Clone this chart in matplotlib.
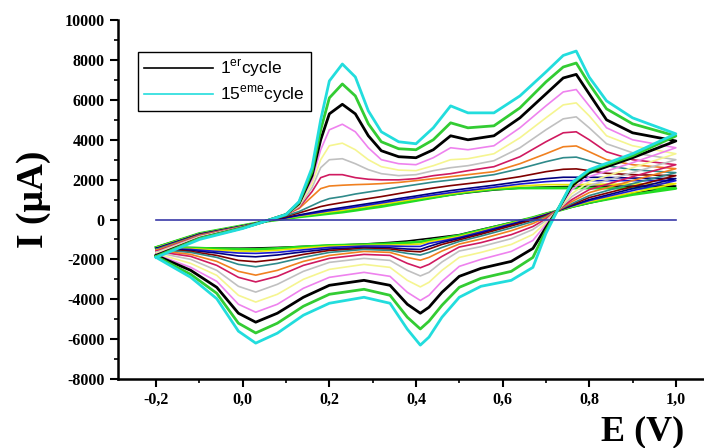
import numpy as np
import matplotlib
matplotlib.use("Agg")
import matplotlib.pyplot as plt
from matplotlib.lines import Line2D
from matplotlib.ticker import MultipleLocator, FuncFormatter

# potentiels (V) des points
E_fwd = [-0.2, -0.1, 0.0, 0.05, 0.1, 0.13, 0.16, 0.18, 0.2, 0.23, 0.26, 0.29, 0.32, 0.36,
         0.4, 0.44, 0.48, 0.52, 0.58, 0.64, 0.7, 0.74, 0.77, 0.8, 0.84, 0.9, 1.0]
E_rev = [1.0, 0.9, 0.8, 0.76, 0.73, 0.7, 0.67, 0.62, 0.55, 0.5, 0.46, 0.43, 0.41, 0.38,
         0.34, 0.28, 0.2, 0.14, 0.08, 0.03, -0.01, -0.06, -0.12, -0.2]

# courants (uA), balayage aller, du 1er au 15eme cycle
I_fwd_01 = [-1380, -700, -300, -100, 50, 150, 230, 280, 330, 400, 490, 590, 680, 820, 960, 1100, 1230, 1340, 1480, 1580, 1630, 1650, 1660, 1665, 1670, 1675, 1680]
I_fwd_02 = [-1400, -700, -300, -100, 40, 130, 200, 250, 300, 370, 460, 560, 650, 800, 950, 1100, 1250, 1380, 1520, 1580, 1580, 1580, 1580, 1580, 1575, 1570, 1560]
I_fwd_03 = [-1420, -720, -310, -100, 60, 170, 260, 320, 380, 460, 560, 660, 760, 900, 1030, 1170, 1300, 1410, 1560, 1680, 1750, 1750, 1750, 1760, 1770, 1780, 1800]
I_fwd_04 = [-1450, -730, -320, -100, 80, 200, 300, 370, 440, 530, 630, 730, 830, 970, 1100, 1230, 1350, 1460, 1620, 1780, 1900, 1950, 1950, 1950, 1950, 1950, 1950]
I_fwd_05 = [-1450, -740, -330, -100, 100, 230, 350, 430, 500, 600, 700, 800, 900, 1050, 1180, 1320, 1450, 1560, 1720, 1900, 2050, 2120, 2120, 2120, 2110, 2080, 2050]
I_fwd_06 = [-1500, -760, -340, -100, 150, 330, 520, 650, 740, 850, 950, 1050, 1150, 1300, 1450, 1580, 1700, 1800, 1950, 2150, 2400, 2520, 2540, 2450, 2320, 2250, 2200]
I_fwd_07 = [-1500, -780, -350, -100, 200, 400, 700, 900, 1050, 1150, 1280, 1380, 1480, 1620, 1750, 1880, 1980, 2080, 2250, 2550, 2900, 3100, 3130, 2950, 2700, 2500, 2350]
I_fwd_08 = [-1550, -800, -360, -100, 250, 550, 1150, 1550, 1680, 1720, 1750, 1770, 1800, 1860, 1950, 2050, 2150, 2250, 2400, 2800, 3300, 3650, 3690, 3400, 3000, 2750, 2550]
I_fwd_09 = [-1600, -820, -380, -100, 250, 600, 1400, 2100, 2250, 2250, 2100, 2020, 1990, 1990, 2050, 2200, 2300, 2450, 2650, 3150, 3900, 4350, 4400, 4000, 3400, 3000, 2750]
I_fwd_10 = [-1650, -850, -380, -100, 250, 650, 1600, 2600, 3000, 3050, 2800, 2500, 2300, 2200, 2250, 2450, 2600, 2700, 2950, 3600, 4500, 5050, 5150, 4600, 3800, 3350, 3000]
I_fwd_11 = [-1700, -880, -400, -100, 250, 700, 1800, 3000, 3700, 3830, 3500, 3000, 2650, 2480, 2450, 2700, 3000, 3050, 3300, 4100, 5100, 5750, 5850, 5200, 4200, 3700, 3300]
I_fwd_12 = [-1750, -900, -400, -100, 250, 750, 2000, 3500, 4500, 4780, 4400, 3600, 3000, 2800, 2750, 3100, 3600, 3500, 3700, 4600, 5700, 6400, 6520, 5700, 4600, 4000, 3600]
I_fwd_13 = [-1800, -950, -420, -100, 250, 800, 2200, 4000, 5300, 5780, 5300, 4200, 3450, 3150, 3100, 3500, 4200, 4000, 4200, 5100, 6300, 7100, 7280, 6300, 5000, 4350, 3940]
I_fwd_14 = [-1850, -950, -420, -100, 250, 850, 2400, 4500, 6100, 6800, 6200, 4800, 3900, 3550, 3500, 4000, 4850, 4600, 4700, 5600, 6900, 7650, 7850, 6800, 5550, 4800, 4190]
I_fwd_15 = [-1900, -1000, -450, -100, 250, 900, 2600, 5000, 6950, 7800, 7150, 5450, 4400, 3900, 3800, 4600, 5700, 5350, 5350, 6200, 7400, 8230, 8450, 7140, 5950, 5100, 4300]

# courants (uA), balayage retour
I_rev_01 = [1680, 1300, 820, 620, 450, 300, 100, -150, -500, -760, -870, -950, -1000, -1080, -1150, -1230, -1300, -1350, -1400, -1430, -1440, -1430, -1410, -1380]
I_rev_02 = [1560, 1250, 850, 640, 450, 290, 100, -170, -540, -800, -950, -1050, -1120, -1170, -1210, -1260, -1300, -1370, -1450, -1500, -1490, -1460, -1430, -1400]
I_rev_03 = [1800, 1350, 900, 660, 450, 270, 80, -190, -580, -850, -1000, -1120, -1230, -1260, -1280, -1300, -1340, -1430, -1540, -1600, -1580, -1530, -1460, -1420]
I_rev_04 = [1950, 1450, 950, 680, 460, 250, 60, -220, -620, -900, -1080, -1200, -1350, -1350, -1330, -1330, -1400, -1520, -1650, -1700, -1680, -1600, -1500, -1450]
I_rev_05 = [2050, 1550, 1000, 700, 470, 230, 30, -260, -680, -950, -1150, -1350, -1500, -1480, -1420, -1400, -1480, -1620, -1780, -1870, -1830, -1680, -1550, -1450]
I_rev_06 = [2200, 1650, 1100, 750, 480, 200, -20, -320, -740, -1020, -1250, -1480, -1620, -1580, -1480, -1450, -1550, -1750, -2000, -2120, -2050, -1800, -1600, -1480]
I_rev_07 = [2350, 1800, 1200, 800, 490, 150, -100, -420, -830, -1100, -1400, -1650, -1780, -1700, -1550, -1500, -1650, -1900, -2200, -2370, -2250, -1900, -1650, -1500]
I_rev_08 = [2550, 1950, 1350, 900, 500, 100, -200, -560, -980, -1230, -1580, -1900, -2040, -1900, -1650, -1600, -1800, -2100, -2550, -2790, -2600, -2100, -1750, -1550]
I_rev_09 = [2750, 2150, 1500, 1000, 510, 30, -350, -760, -1160, -1380, -1850, -2250, -2420, -2200, -1800, -1750, -1950, -2300, -2850, -3130, -2900, -2300, -1850, -1600]
I_rev_10 = [3000, 2350, 1700, 1150, 520, -50, -500, -960, -1360, -1580, -2130, -2650, -2830, -2550, -2050, -1950, -2150, -2600, -3250, -3640, -3350, -2550, -2000, -1650]
I_rev_11 = [3300, 2600, 1900, 1300, 540, -150, -750, -1250, -1650, -1900, -2550, -3150, -3380, -3050, -2400, -2250, -2500, -3000, -3750, -4140, -3800, -2800, -2200, -1700]
I_rev_12 = [3600, 2850, 2150, 1500, 560, -250, -1050, -1600, -2000, -2350, -3100, -3800, -4060, -3650, -2850, -2650, -2900, -3450, -4250, -4650, -4250, -3100, -2400, -1750]
I_rev_13 = [3940, 3100, 2350, 1700, 580, -400, -1450, -2100, -2450, -2850, -3650, -4400, -4700, -4250, -3300, -3050, -3300, -3900, -4700, -5150, -4700, -3400, -2550, -1800]
I_rev_14 = [4190, 3200, 2450, 1800, 600, -550, -1900, -2600, -2950, -3400, -4300, -5100, -5490, -4900, -3800, -3500, -3750, -4350, -5200, -5690, -5200, -3700, -2750, -1850]
I_rev_15 = [4300, 3300, 2500, 1850, 600, -700, -2400, -3050, -3350, -3900, -4900, -5900, -6300, -5500, -4200, -3900, -4200, -4800, -5700, -6200, -5600, -3970, -2900, -1900]

fwd = [I_fwd_01, I_fwd_02, I_fwd_03, I_fwd_04, I_fwd_05, I_fwd_06, I_fwd_07, I_fwd_08,
       I_fwd_09, I_fwd_10, I_fwd_11, I_fwd_12, I_fwd_13, I_fwd_14, I_fwd_15]
rev = [I_rev_01, I_rev_02, I_rev_03, I_rev_04, I_rev_05, I_rev_06, I_rev_07, I_rev_08,
       I_rev_09, I_rev_10, I_rev_11, I_rev_12, I_rev_13, I_rev_14, I_rev_15]

couleurs = ["#000000", "#22dd22", "#e6e600", "#1a1ad0", "#000080", "#800000", "#2f8a8a", "#f08020",
            "#d01a60", "#c0c0c0", "#f5f590", "#ee82ee", "#000000", "#33cc33", "#22dddd"]
epaisseurs = [1.2, 2.0, 1.2, 1.2, 1.2, 1.2, 1.2, 1.2, 1.2, 1.2, 1.2, 1.2, 2.0, 2.0, 2.0]

plt.rcParams['font.family'] = ['Liberation Serif', 'DejaVu Serif']
plt.rcParams['mathtext.fontset'] = 'custom'
plt.rcParams['mathtext.rm'] = 'Liberation Sans'

fig = plt.figure(figsize=(7.04, 4.48), dpi=100)
ax = fig.add_axes([0.1676, 0.154, 0.8324, 0.801])

for i in range(15):
    E = np.array(E_fwd + E_rev)
    I = np.array(fwd[i] + rev[i])
    ax.plot(E, I, color=couleurs[i], lw=epaisseurs[i])

# ligne de base
ax.plot([-0.2, 1.0], [0, 0], color="#3a3aa8", lw=1.2)

ax.set_xlim(-0.288, 1.065)
ax.set_ylim(-8000, 10000)

ax.spines['top'].set_visible(False)
ax.spines['right'].set_visible(False)
ax.spines['left'].set_linewidth(1.8)
ax.spines['bottom'].set_linewidth(1.8)

ax.xaxis.set_major_locator(MultipleLocator(0.2))
ax.xaxis.set_minor_locator(MultipleLocator(0.1))
ax.yaxis.set_major_locator(MultipleLocator(2000))
ax.yaxis.set_minor_locator(MultipleLocator(1000))
ax.xaxis.set_major_formatter(FuncFormatter(lambda v, p: f"{v:.1f}".replace('.', ',').replace('-0,0', '0,0')))
ax.yaxis.set_major_formatter(FuncFormatter(lambda v, p: f"{int(round(v))}"))
ax.tick_params(which='major', direction='out', length=6, width=1.5, labelsize=11.5)
ax.tick_params(which='minor', direction='out', length=3, width=1.2)
for lab in ax.get_xticklabels() + ax.get_yticklabels():
    lab.set_fontweight('bold')

ax.set_ylabel("I (μA)", fontsize=27, fontweight='bold', labelpad=10)
fig.text(0.913, 0.035, "E (V)", fontsize=26, fontweight='bold', ha='center', va='center')

poignees = [Line2D([0], [0], color="#000000", lw=1.2),
            Line2D([0], [0], color="#22dddd", lw=1.2)]
leg = ax.legend(poignees, [r"1$^{\mathrm{er}}$cycle", r"15$^{\mathrm{eme}}$cycle"],
                loc='upper left', bbox_to_anchor=(0.034, 0.911), borderaxespad=0,
                fancybox=False, framealpha=1, edgecolor='black', handlelength=4.0,
                handletextpad=0.4, prop={'family': 'Liberation Sans', 'size': 12.5},
                labelspacing=0.25, borderpad=0.35)
leg.get_frame().set_linewidth(1.0)

fig.savefig("out.png", dpi=100)
